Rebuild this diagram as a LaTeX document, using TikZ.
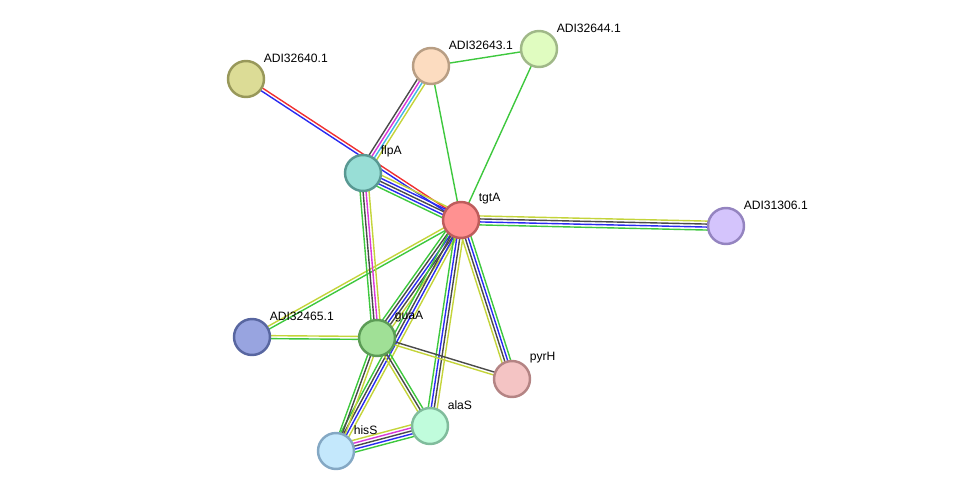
\documentclass[tikz,border=0pt]{standalone}
\usepackage{fontspec}
\setmainfont{Liberation Sans}
\usetikzlibrary{calc,backgrounds}

\definecolor{evgreen}{HTML}{3EC83E}
\definecolor{evyellow}{HTML}{C4D43A}
\definecolor{evblack}{HTML}{4A4A4A}
\definecolor{evblue}{HTML}{2A2AF0}
\definecolor{evred}{HTML}{F03030}
\definecolor{evmagenta}{HTML}{D838D8}
\definecolor{evcyan}{HTML}{40B8E8}

% parallel evidence lines between two proteins
\newcommand{\evlines}[3]{%
  \foreach \c [count=\i] in {#3} {\xdef\evcount{\i}}%
  \foreach \c [count=\i] in {#3} {%
    \pgfmathsetmacro\evoff{(\i-(\evcount+1)/2)*1.7}%
    \draw[evline, \c] ($(#1)!\evoff pt!90:(#2)$) -- ($(#2)!\evoff pt!-90:(#1)$);
  }%
}

\begin{document}
\begin{tikzpicture}[x=0.02cm, y=-0.02cm,
  prot/.style={circle, minimum size=0.72cm, inner sep=0pt, line width=1.4pt},
  lbl/.style={font=\fontsize{6.9}{8}\selectfont, inner sep=1pt, label distance=1.1pt, xshift=0.4pt, yshift=-0.5pt},
  evline/.style={line width=0.8pt}]
\useasboundingbox (0,0) rectangle (976,497);

\node[prot, fill={rgb,255:red,255;green,145;blue,145}, draw={rgb,255:red,190;green,92;blue,92}, label={[lbl]45:tgtA}] (tgtA) at (461,220) {};
\node[prot, fill={rgb,255:red,152;green,222;blue,214}, draw={rgb,255:red,88;green,152;blue,146}, label={[lbl]45:flpA}] (flpA) at (363,173) {};
\node[prot, fill={rgb,255:red,220;green,220;blue,150}, draw={rgb,255:red,152;green,152;blue,90}, label={[lbl]45:ADI32640.1}] (adi40) at (246,79) {};
\node[prot, fill={rgb,255:red,252;green,220;blue,192}, draw={rgb,255:red,184;green,158;blue,132}, label={[lbl]45:ADI32643.1}] (adi43) at (431,66) {};
\node[prot, fill={rgb,255:red,224;green,252;blue,192}, draw={rgb,255:red,160;green,184;blue,136}, label={[lbl]45:ADI32644.1}] (adi44) at (539,49) {};
\node[prot, fill={rgb,255:red,212;green,196;blue,252}, draw={rgb,255:red,148;green,132;blue,192}, label={[lbl]45:ADI31306.1}] (adi06) at (726,226) {};
\node[prot, fill={rgb,255:red,152;green,164;blue,224}, draw={rgb,255:red,88;green,102;blue,160}, label={[lbl]45:ADI32465.1}] (adi65) at (252,337) {};
\node[prot, fill={rgb,255:red,160;green,224;blue,150}, draw={rgb,255:red,92;green,156;blue,86}, label={[lbl]45:guaA}] (guaA) at (377,338) {};
\node[prot, fill={rgb,255:red,244;green,196;blue,196}, draw={rgb,255:red,180;green,132;blue,132}, label={[lbl]45:pyrH}] (pyrH) at (512,379) {};
\node[prot, fill={rgb,255:red,192;green,252;blue,220}, draw={rgb,255:red,128;green,188;blue,156}, label={[lbl]45:alaS}] (alaS) at (430,426) {};
\node[prot, fill={rgb,255:red,196;green,232;blue,252}, draw={rgb,255:red,132;green,168;blue,196}, label={[lbl]45:hisS}] (hisS) at (336,451) {};

\begin{pgfonlayer}{background}
\evlines{adi40}{tgtA}{evblue,evred}
\evlines{flpA}{tgtA}{evgreen,evblue,evblack,evblue,evyellow}
\evlines{adi43}{flpA}{evblack,evmagenta,evcyan,evyellow}
\evlines{adi43}{adi44}{evgreen}
\evlines{adi43}{tgtA}{evgreen}
\evlines{adi44}{tgtA}{evgreen}
\evlines{tgtA}{adi06}{evgreen,evblue,evblack,evyellow}
\evlines{tgtA}{adi65}{evyellow,evgreen}
\evlines{adi65}{guaA}{evgreen,evyellow}
\evlines{flpA}{guaA}{evgreen,evblack,evmagenta,evyellow}
\evlines{tgtA}{guaA}{evgreen,evblack,evblue,evblack,evyellow}
\evlines{tgtA}{hisS}{evgreen,evblack,evblue,evyellow}
\evlines{tgtA}{alaS}{evgreen,evblue,evblack,evyellow}
\evlines{tgtA}{pyrH}{evyellow,evblack,evblue,evgreen}
\evlines{guaA}{pyrH}{evyellow,evblack}
\evlines{guaA}{alaS}{evyellow,evblack,evgreen}
\evlines{guaA}{hisS}{evgreen,evblack,evyellow}
\evlines{hisS}{alaS}{evgreen,evblue,evblack,evmagenta,evyellow}
\end{pgfonlayer}
\end{tikzpicture}
\end{document}
